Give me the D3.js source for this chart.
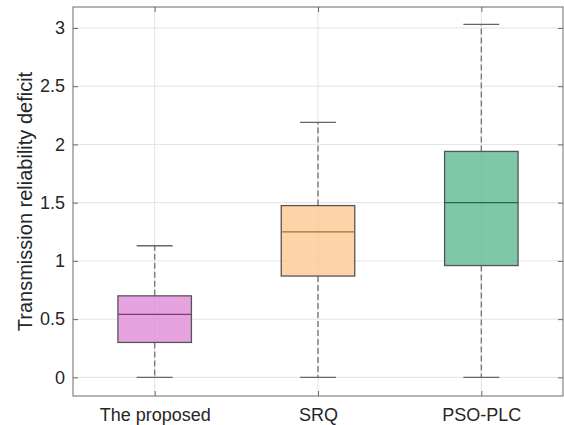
<!DOCTYPE html>
<html>
<head>
<meta charset="utf-8">
<script src="https://cdn.jsdelivr.net/npm/d3@7"></script>
<style>
  html, body { margin: 0; padding: 0; background: #fff; }
  svg { display: block; font-family: "Liberation Sans", Arial, Helvetica, sans-serif; }
</style>
</head>
<body>
<svg id="chart" width="564" height="425"></svg>
<script>
// Box-plot statistics per method
const categories = ["The proposed", "SRQ", "PSO-PLC"];
const lowerWhisker = [0, 0, 0];
const q1Values = [0.30, 0.87, 0.96];
const medianValues = [0.54, 1.25, 1.50];
const q3Values = [0.70, 1.475, 1.94];
const upperWhisker = [1.13, 2.19, 3.03];
const yTicks = [0, 0.5, 1, 1.5, 2, 2.5, 3];
const yLabel = "Transmission reliability deficit";

const fillColors = ["#E08CD8", "#FFC892", "#60B892"];
const medianColors = ["#7B3B78", "#A06F45", "#1E6B46"];

const svg = d3.select("#chart");
const margin = { left: 73, right: 1, top: 7, bottom: 29 };
const W = 564, H = 425;
const x0 = margin.left, x1 = W - margin.right;
const y0 = H - margin.bottom, y1 = margin.top;

const x = d3.scaleLinear().domain([0.5, 3.5]).range([x0, x1]);
const y = d3.scaleLinear().domain([-0.16, 3.18]).range([y0, y1]);

const boxes = categories.map((c, i) => ({
  name: c, pos: i + 1,
  lo: lowerWhisker[i], q1: q1Values[i], med: medianValues[i], q3: q3Values[i], hi: upperWhisker[i],
  fill: fillColors[i], medColor: medianColors[i]
}));

const g = svg.append("g");

// grid
g.append("g").selectAll("line").data(yTicks).join("line")
  .attr("x1", x0).attr("x2", x1)
  .attr("y1", d => y(d)).attr("y2", d => y(d))
  .attr("stroke", "#e3e3e3").attr("stroke-width", 1);
g.append("g").selectAll("line").data(boxes).join("line")
  .attr("x1", d => x(d.pos)).attr("x2", d => x(d.pos))
  .attr("y1", y0).attr("y2", y1)
  .attr("stroke", "#e3e3e3").attr("stroke-width", 1);

const boxHalf = 0.225, capHalf = 0.11;

const bg = g.append("g").selectAll("g").data(boxes).join("g");

// whiskers
bg.append("line")
  .attr("x1", d => x(d.pos)).attr("x2", d => x(d.pos))
  .attr("y1", d => y(d.q3)).attr("y2", d => y(d.hi))
  .attr("stroke", "#7a7a7a").attr("stroke-width", 1.4).attr("stroke-dasharray", "6,3");
bg.append("line")
  .attr("x1", d => x(d.pos)).attr("x2", d => x(d.pos))
  .attr("y1", d => y(d.q1)).attr("y2", d => y(d.lo))
  .attr("stroke", "#7a7a7a").attr("stroke-width", 1.4).attr("stroke-dasharray", "6,3");
// caps
bg.append("line")
  .attr("x1", d => x(d.pos - capHalf)).attr("x2", d => x(d.pos + capHalf))
  .attr("y1", d => y(d.hi)).attr("y2", d => y(d.hi))
  .attr("stroke", "#666").attr("stroke-width", 1.3);
bg.append("line")
  .attr("x1", d => x(d.pos - capHalf)).attr("x2", d => x(d.pos + capHalf))
  .attr("y1", d => y(d.lo)).attr("y2", d => y(d.lo))
  .attr("stroke", "#666").attr("stroke-width", 1.3);
// boxes
bg.append("rect")
  .attr("x", d => x(d.pos - boxHalf))
  .attr("width", d => x(d.pos + boxHalf) - x(d.pos - boxHalf))
  .attr("y", d => y(d.q3))
  .attr("height", d => y(d.q1) - y(d.q3))
  .attr("fill", d => d.fill).attr("fill-opacity", 0.8)
  .attr("stroke", "#555").attr("stroke-width", 1.3);
// medians
bg.append("line")
  .attr("x1", d => x(d.pos - boxHalf)).attr("x2", d => x(d.pos + boxHalf))
  .attr("y1", d => y(d.med)).attr("y2", d => y(d.med))
  .attr("stroke", d => d.medColor).attr("stroke-width", 1.3);

// axes frame
const frameColor = "#6b6b6b";
g.append("rect").attr("x", x0).attr("y", y1).attr("width", x1 - x0).attr("height", y0 - y1)
  .attr("fill", "none").attr("stroke", frameColor).attr("stroke-width", 1);

const tickLen = 5;
const fontSize = 18;

// left axis
const yAxisL = d3.axisLeft(y).tickValues(yTicks).tickSizeInner(-tickLen).tickSizeOuter(0).tickPadding(8)
  .tickFormat(d3.format("~g"));
const gl = g.append("g").attr("transform", `translate(${x0},0)`).call(yAxisL);
gl.select(".domain").remove();
gl.selectAll(".tick line").attr("stroke", frameColor);
gl.selectAll(".tick text").attr("fill", "#262626").style("font-size", fontSize + "px")
  .style("font-family", "'Liberation Sans', Arial, sans-serif");

// right axis ticks
const yAxisR = d3.axisRight(y).tickValues(yTicks).tickSizeInner(-tickLen).tickSizeOuter(0).tickFormat("");
const gr = g.append("g").attr("transform", `translate(${x1},0)`).call(yAxisR);
gr.select(".domain").remove();
gr.selectAll(".tick line").attr("stroke", frameColor);

// bottom axis
const xAxisB = d3.axisBottom(x).tickValues(boxes.map(d => d.pos)).tickSizeInner(-tickLen).tickSizeOuter(0)
  .tickPadding(12).tickFormat(d => categories[d - 1]);
const gb = g.append("g").attr("transform", `translate(0,${y0})`).call(xAxisB);
gb.select(".domain").remove();
gb.selectAll(".tick line").attr("stroke", frameColor);
gb.selectAll(".tick text").attr("fill", "#262626").style("font-size", fontSize + "px")
  .style("font-family", "'Liberation Sans', Arial, sans-serif");

// top axis ticks
const xAxisT = d3.axisTop(x).tickValues(boxes.map(d => d.pos)).tickSizeInner(-tickLen).tickSizeOuter(0).tickFormat("");
const gt = g.append("g").attr("transform", `translate(0,${y1})`).call(xAxisT);
gt.select(".domain").remove();
gt.selectAll(".tick line").attr("stroke", frameColor);

// y label
svg.append("text")
  .attr("transform", `translate(32,${(y0 + y1) / 2}) rotate(-90)`)
  .attr("text-anchor", "middle")
  .attr("fill", "#262626")
  .style("font-size", "20px")
  .text(yLabel);
</script>
</body>
</html>
